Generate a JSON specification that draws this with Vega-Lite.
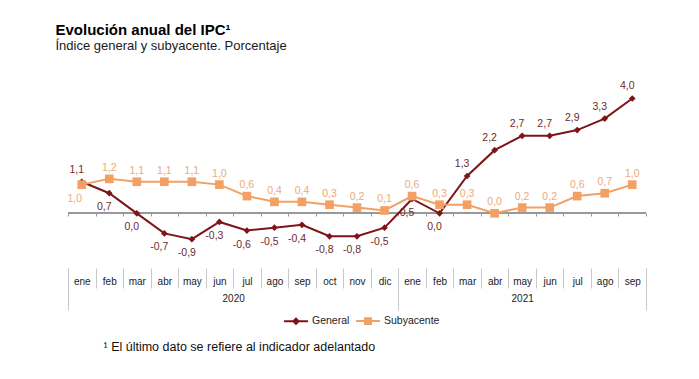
{
  "$schema": "https://vega.github.io/schema/vega-lite/v6.json",
  "width": 578,
  "height": 178,
  "autosize": {"type": "none"},
  "padding": {"left": 68, "top": 87, "right": 53, "bottom": 114},
  "background": "white",
  "title": {
    "text": "Evolución anual del IPC¹",
    "subtitle": "Índice general y subyacente. Porcentaje",
    "anchor": "start",
    "dx": -12,
    "offset": 28,
    "font": "Liberation Sans",
    "subtitleFont": "Liberation Sans",
    "fontSize": 15,
    "fontWeight": "bold",
    "subtitleFontSize": 13,
    "color": "#000000",
    "subtitleColor": "#1a1a1a",
    "subtitlePadding": 2
  },
  "data": {
    "values": [
      {"i": 0, "serie": "General", "v": 1.1}, {"i": 1, "serie": "General", "v": 0.7}, {"i": 2, "serie": "General", "v": 0.0},
      {"i": 3, "serie": "General", "v": -0.7}, {"i": 4, "serie": "General", "v": -0.9}, {"i": 5, "serie": "General", "v": -0.3},
      {"i": 6, "serie": "General", "v": -0.6}, {"i": 7, "serie": "General", "v": -0.5}, {"i": 8, "serie": "General", "v": -0.4},
      {"i": 9, "serie": "General", "v": -0.8}, {"i": 10, "serie": "General", "v": -0.8}, {"i": 11, "serie": "General", "v": -0.5},
      {"i": 12, "serie": "General", "v": 0.5}, {"i": 13, "serie": "General", "v": 0.0}, {"i": 14, "serie": "General", "v": 1.3},
      {"i": 15, "serie": "General", "v": 2.2}, {"i": 16, "serie": "General", "v": 2.7}, {"i": 17, "serie": "General", "v": 2.7},
      {"i": 18, "serie": "General", "v": 2.9}, {"i": 19, "serie": "General", "v": 3.3}, {"i": 20, "serie": "General", "v": 4.0},
      {"i": 0, "serie": "Subyacente", "v": 1.0}, {"i": 1, "serie": "Subyacente", "v": 1.2}, {"i": 2, "serie": "Subyacente", "v": 1.1},
      {"i": 3, "serie": "Subyacente", "v": 1.1}, {"i": 4, "serie": "Subyacente", "v": 1.1}, {"i": 5, "serie": "Subyacente", "v": 1.0},
      {"i": 6, "serie": "Subyacente", "v": 0.6}, {"i": 7, "serie": "Subyacente", "v": 0.4}, {"i": 8, "serie": "Subyacente", "v": 0.4},
      {"i": 9, "serie": "Subyacente", "v": 0.3}, {"i": 10, "serie": "Subyacente", "v": 0.2}, {"i": 11, "serie": "Subyacente", "v": 0.1},
      {"i": 12, "serie": "Subyacente", "v": 0.6}, {"i": 13, "serie": "Subyacente", "v": 0.3}, {"i": 14, "serie": "Subyacente", "v": 0.3},
      {"i": 15, "serie": "Subyacente", "v": 0.0}, {"i": 16, "serie": "Subyacente", "v": 0.2}, {"i": 17, "serie": "Subyacente", "v": 0.2},
      {"i": 18, "serie": "Subyacente", "v": 0.6}, {"i": 19, "serie": "Subyacente", "v": 0.7}, {"i": 20, "serie": "Subyacente", "v": 1.0}
    ]
  },
  "layer": [
    {
      "mark": {"type": "rule", "color": "#9a9a9a", "strokeWidth": 1},
      "encoding": {"y": {"datum": 0, "type": "quantitative", "scale": {"domain": [-1.8, 4.4], "nice": false, "zero": false}, "axis": null}}
    },
    {
      "mark": {"type": "line", "strokeWidth": 2},
      "encoding": {
        "x": {"field": "i", "type": "quantitative", "scale": {"domain": [-0.5, 20.5], "nice": false, "zero": false},
          "axis": {"orient": "bottom", "values": [0,1,2,3,4,5,6,7,8,9,10,11,12,13,14,15,16,17,18,19,20],
            "labelExpr": "['ene','feb','mar','abr','may','jun','jul','ago','sep','oct','nov','dic'][datum.value % 12]",
            "ticks": false, "domain": false, "grid": false, "title": null, "labelPadding": 16, "labelBaseline": "middle",
            "labelFont": "Liberation Sans", "labelFontSize": 10, "labelColor": "#222222", "labelFlush": false, "labelOverlap": false}},
        "y": {"field": "v", "type": "quantitative"},
        "color": {"field": "serie", "type": "nominal",
          "scale": {"domain": ["General", "Subyacente"], "range": ["#7d141a", "#f2a064"]},
          "legend": {"orient": "none", "legendX": 215, "legendY": 221, "direction": "horizontal", "title": null,
            "labelFont": "Liberation Sans", "labelFontSize": 10.5, "labelColor": "#222222", "labelOffset": 3,
            "columnPadding": 2, "symbolSize": 576, "symbolStrokeWidth": 2, "symbolOpacity": 1}}
      }
    },
    {
      "transform": [{"filter": "false"}],
      "mark": {"type": "point", "filled": true, "size": 576, "strokeWidth": 2, "opacity": 1},
      "encoding": {
        "x": {"field": "i", "type": "quantitative", "axis": null},
        "y": {"field": "v", "type": "quantitative"},
        "color": {"field": "serie", "type": "nominal"},
        "stroke": {"field": "serie", "type": "nominal", "scale": {"domain": ["General", "Subyacente"], "range": ["#7d141a", "#f2a064"]}},
        "shape": {"field": "serie", "type": "nominal", "scale": {"domain": ["General", "Subyacente"],
          "range": ["M-1,0L1,0M-0.22,0L0,-0.22L0.22,0L0,0.22Z", "M-1,0L1,0M-0.24,-0.24L0.24,-0.24L0.24,0.24L-0.24,0.24Z"]}}
      }
    },
    {
      "transform": [{"filter": "datum.serie === 'General'"}],
      "mark": {"type": "point", "filled": true, "opacity": 1, "shape": "diamond", "size": 45},
      "encoding": {
        "x": {"field": "i", "type": "quantitative",
          "axis": {"orient": "bottom", "values": [-0.5,0.5,1.5,2.5,3.5,4.5,5.5,6.5,7.5,8.5,9.5,10.5,11.5,12.5,13.5,14.5,15.5,16.5,17.5,18.5,19.5,20.5],
            "labels": false, "domain": false, "grid": false, "title": null, "ticks": true, "tickSize": 20, "offset": 3,
            "tickColor": "#c8c8c8", "tickWidth": 1}},
        "y": {"field": "v", "type": "quantitative"},
        "color": {"field": "serie", "type": "nominal"}
      }
    },
    {
      "transform": [{"filter": "datum.serie === 'Subyacente'"}],
      "mark": {"type": "point", "filled": true, "opacity": 1, "shape": "square", "size": 75},
      "encoding": {
        "x": {"field": "i", "type": "quantitative",
          "axis": {"orient": "bottom", "values": [-0.5,0.5,1.5,2.5,3.5,4.5,5.5,6.5,7.5,8.5,9.5,10.5,11.5,12.5,13.5,14.5,15.5,16.5,17.5,18.5,19.5,20.5],
            "labels": false, "domain": false, "grid": false, "title": null, "ticks": true, "tickSize": 3, "offset": -52,
            "tickColor": "#9a9a9a", "tickWidth": 1}},
        "y": {"field": "v", "type": "quantitative"},
        "color": {"field": "serie", "type": "nominal"}
      }
    },
    {
      "transform": [{"filter": "datum.serie === 'General' && datum.v >= 1"}],
      "mark": {"type": "text", "dy": -12, "dx": -5, "font": "Liberation Sans", "fontSize": 10.5, "color": "#6e2a2a"},
      "encoding": {
        "x": {"field": "i", "type": "quantitative",
          "axis": {"orient": "bottom", "values": [-0.5, 11.5, 20.5], "labels": false, "domain": false, "grid": false, "title": null,
            "ticks": true, "tickSize": 42, "offset": 3, "tickColor": "#c8c8c8", "tickWidth": 1}},
        "y": {"field": "v", "type": "quantitative"},
        "text": {"field": "v", "type": "quantitative", "format": ".1f"}
      }
    },
    {
      "transform": [{"filter": "datum.serie === 'General' && datum.v < 1"}],
      "mark": {"type": "text", "dy": 14, "dx": -5, "font": "Liberation Sans", "fontSize": 10.5, "color": "#6e2a2a"},
      "encoding": {
        "x": {"field": "i", "type": "quantitative",
          "axis": {"orient": "bottom", "values": [5.5, 16], "labelExpr": "datum.value < 12 ? '2020' : '2021'",
            "ticks": false, "domain": false, "grid": false, "labelPadding": 33, "labelBaseline": "middle",
            "labelFont": "Liberation Sans", "labelFontSize": 10, "labelColor": "#222222",
            "title": "¹ El último dato se refiere al indicador adelantado", "titleFont": "Liberation Sans",
            "titleFontSize": 12.5, "titleFontWeight": "normal", "titleColor": "#111111",
            "titleAnchor": "start", "titleAlign": "left", "titleX": 35, "titleY": 81, "titleBaseline": "middle"}},
        "y": {"field": "v", "type": "quantitative"},
        "text": {"field": "v", "type": "quantitative", "format": ".1f"}
      }
    },
    {
      "transform": [{"filter": "datum.serie === 'Subyacente' && datum.i > 0"}],
      "mark": {"type": "text", "dy": -11, "font": "Liberation Sans", "fontSize": 10.5, "color": "#eda978"},
      "encoding": {
        "x": {"field": "i", "type": "quantitative", "axis": null},
        "y": {"field": "v", "type": "quantitative"},
        "text": {"field": "v", "type": "quantitative", "format": ".1f"}
      }
    },
    {
      "transform": [{"filter": "datum.serie === 'Subyacente' && datum.i === 0"}],
      "mark": {"type": "text", "dy": 14, "dx": -7, "font": "Liberation Sans", "fontSize": 10.5, "color": "#eda978"},
      "encoding": {
        "x": {"field": "i", "type": "quantitative", "axis": null},
        "y": {"field": "v", "type": "quantitative"},
        "text": {"field": "v", "type": "quantitative", "format": ".1f"}
      }
    }
  ],
  "resolve": {"axis": {"x": "independent"}},
  "config": {
    "view": {"stroke": null},
    "locale": {"number": {"decimal": ",", "thousands": ".", "grouping": [3], "currency": ["", " €"], "minus": "-"}}
  }
}
